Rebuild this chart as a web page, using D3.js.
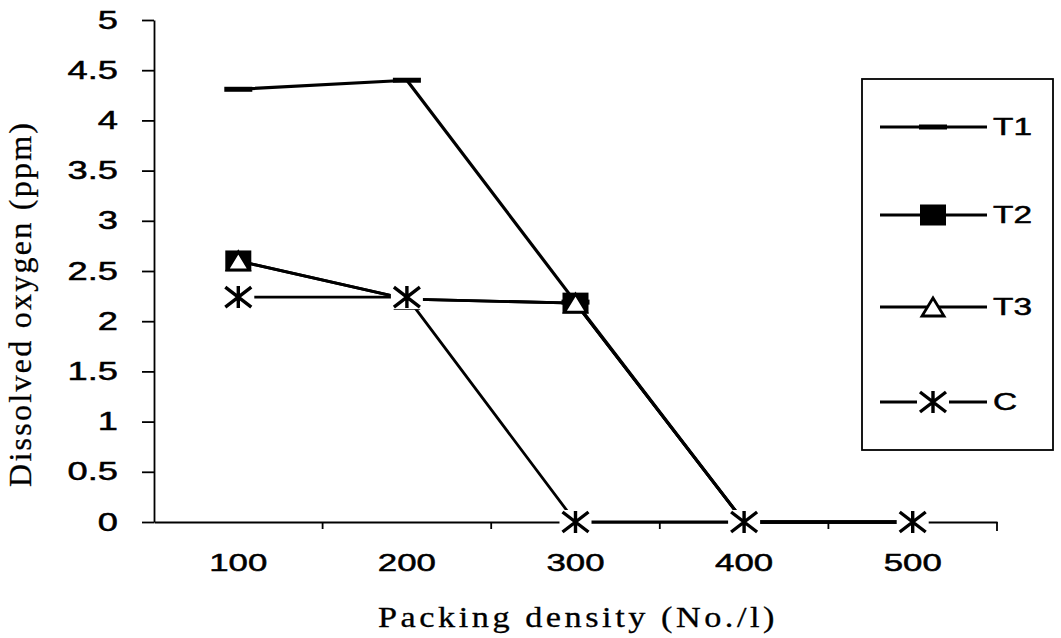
<!DOCTYPE html>
<html>
<head>
<meta charset="utf-8">
<script src="https://cdn.jsdelivr.net/npm/d3@7"></script>
<style>
  html, body { margin: 0; padding: 0; background: #fff; }
  svg { display: block; }
</style>
</head>
<body>
<svg id="chart" width="1061" height="638"></svg>
<script>
// ---------- data ----------
const categories = ["100", "200", "300", "400", "500"];
const seriesNames = ["T1", "T2", "T3", "C"];
const valuesT1 = [4.31, 4.40, 2.19, 0, 0];
const valuesT2 = [2.60, 2.22, 2.18, 0, 0];
const valuesT3 = [2.60, 2.22, 2.18, 0, 0];
const valuesC  = [2.24, 2.24, 0, 0, 0];
const yTickValues = [0, 0.5, 1, 1.5, 2, 2.5, 3, 3.5, 4, 4.5, 5];
const yTickLabels = ["0", "0.5", "1", "1.5", "2", "2.5", "3", "3.5", "4", "4.5", "5"];
const xTitle = "Packing density (No./l)";
const yTitle = "Dissolved oxygen (ppm)";

const series = [
  { name: seriesNames[0], values: valuesT1, marker: "dash",     width: 3.2 },
  { name: seriesNames[1], values: valuesT2, marker: "square",   width: 2.8 },
  { name: seriesNames[2], values: valuesT3, marker: "triangle", width: 2.8 },
  { name: seriesNames[3], values: valuesC,  marker: "star",     width: 2.8 }
];

// ---------- layout ----------
const svg = d3.select("#chart");
const plotLeft = 154, plotRight = 997, plotTop = 20, plotBottom = 522;
const sansFont = "'Liberation Sans', Arial, sans-serif";
const serifFont = "'Liberation Serif', 'Times New Roman', serif";

const x = d3.scaleBand().domain(categories).range([plotLeft, plotRight]).padding(0);
const y = d3.scaleLinear().domain([0, 5]).range([plotBottom, plotTop]);

function stretch(sel, factor) {
  sel.each(function () {
    const w = this.getComputedTextLength();
    this.setAttribute("textLength", w * factor);
    this.setAttribute("lengthAdjust", "spacingAndGlyphs");
  });
}
function inkify(sel, w) {
  sel.attr("fill", "#000").attr("stroke", "#000").attr("stroke-width", w);
}

// ---------- y axis ----------
const yAxis = d3.axisLeft(y)
  .tickValues(yTickValues)
  .tickFormat((d, i) => yTickLabels[i])
  .tickSize(12)
  .tickSizeOuter(0)
  .tickPadding(24);
const gy = svg.append("g").attr("transform", `translate(${plotLeft},0)`).call(yAxis);
gy.select(".domain").attr("stroke", "#000").attr("stroke-width", 1.8);
gy.selectAll(".tick line").attr("stroke", "#000").attr("stroke-width", 1.8);
gy.selectAll(".tick text")
  .attr("font-family", sansFont).attr("font-size", 25);
inkify(gy.selectAll(".tick text"), 0.5);
stretch(gy.selectAll(".tick text"), 1.45);

// ---------- x axis ----------
const xAxis = d3.axisBottom(x).tickSize(0).tickSizeOuter(0).tickPadding(32);
const gx = svg.append("g").attr("transform", `translate(0,${plotBottom})`).call(xAxis);
gx.select(".domain").attr("stroke", "#000").attr("stroke-width", 1.8);
gx.selectAll(".tick text")
  .attr("font-family", sansFont).attr("font-size", 24);
inkify(gx.selectAll(".tick text"), 0.5);
stretch(gx.selectAll(".tick text"), 1.45);

// category boundary ticks
const boundaries = d3.range(categories.length + 1).map(i => x.range()[0] + i * x.step());
gx.selectAll(".btick").data(boundaries.slice(1)).join("line")
  .attr("class", "btick")
  .attr("x1", d => d).attr("x2", d => d)
  .attr("y1", 0).attr("y2", (d, i) => i === categories.length - 1 ? 9 : 7)
  .attr("stroke", "#000").attr("stroke-width", 1.8);

// ---------- titles ----------
const xt = svg.append("text")
  .attr("x", 578).attr("y", 627)
  .attr("text-anchor", "middle")
  .attr("font-family", serifFont).attr("font-size", 29)
  .attr("letter-spacing", 3)
  .text(xTitle);
inkify(xt, 0.3);
xt.attr("textLength", 400).attr("lengthAdjust", "spacingAndGlyphs");

const yt = svg.append("text")
  .attr("transform", "translate(31,305) rotate(-90)")
  .attr("text-anchor", "middle")
  .attr("font-family", serifFont).attr("font-size", 32)
  .attr("textLength", 364).attr("lengthAdjust", "spacing")
  .text(yTitle);
inkify(yt, 0.3);

// ---------- markers ----------
function drawMarker(g, type, cx, cy) {
  if (type === "dash") {
    g.append("rect").attr("x", cx - 14).attr("y", cy - 2.5).attr("width", 28).attr("height", 5).attr("fill", "#000");
  } else if (type === "square") {
    g.append("rect").attr("x", cx - 13).attr("y", cy - 10.5).attr("width", 26).attr("height", 21).attr("fill", "#000");
  } else if (type === "triangle") {
    g.append("path")
      .attr("d", `M${cx},${cy - 9} L${cx + 11},${cy + 9} L${cx - 11},${cy + 9} Z`)
      .attr("fill", "#fff").attr("stroke", "#000").attr("stroke-width", 2.8).attr("stroke-linejoin", "miter");
  } else if (type === "star") {
    g.append("rect").attr("x", cx - 16).attr("y", cy - 12).attr("width", 32).attr("height", 24).attr("fill", "#fff");
    g.append("path")
      .attr("d", `M${cx},${cy - 11} L${cx},${cy + 11} M${cx - 13},${cy - 10} L${cx + 13},${cy + 10} M${cx - 13},${cy + 10} L${cx + 13},${cy - 10}`)
      .attr("fill", "none").attr("stroke", "#000").attr("stroke-width", 3.4);
  }
}

// ---------- lines ----------
const line = d3.line()
  .x((d, i) => x(categories[i]) + x.bandwidth() / 2)
  .y(d => y(d));

const gLines = svg.append("g");
series.forEach(s => {
  gLines.append("path")
    .attr("d", line(s.values))
    .attr("fill", "none")
    .attr("stroke", "#000")
    .attr("stroke-width", s.width)
    .attr("stroke-linejoin", "round");
});

const gMarkers = svg.append("g");
series.forEach(s => {
  s.values.forEach((v, i) => {
    drawMarker(gMarkers, s.marker, x(categories[i]) + x.bandwidth() / 2, y(v));
  });
});

// ---------- legend ----------
const legend = svg.append("g");
legend.append("rect")
  .attr("x", 862).attr("y", 79).attr("width", 191).attr("height", 371)
  .attr("fill", "#fff").attr("stroke", "#000").attr("stroke-width", 1.8);
const legendY = [127, 215, 307, 402];
series.forEach((s, i) => {
  const ly = legendY[i];
  legend.append("line")
    .attr("x1", 880).attr("x2", 987).attr("y1", ly).attr("y2", ly)
    .attr("stroke", "#000").attr("stroke-width", s.width);
  drawMarker(legend, s.marker, 933, ly);
  const t = legend.append("text")
    .attr("x", 993).attr("y", ly + 8)
    .attr("font-family", sansFont).attr("font-size", 23.5)
    .text(s.name);
  inkify(t, 0.5);
  stretch(t, 1.42);
});
</script>
</body>
</html>
